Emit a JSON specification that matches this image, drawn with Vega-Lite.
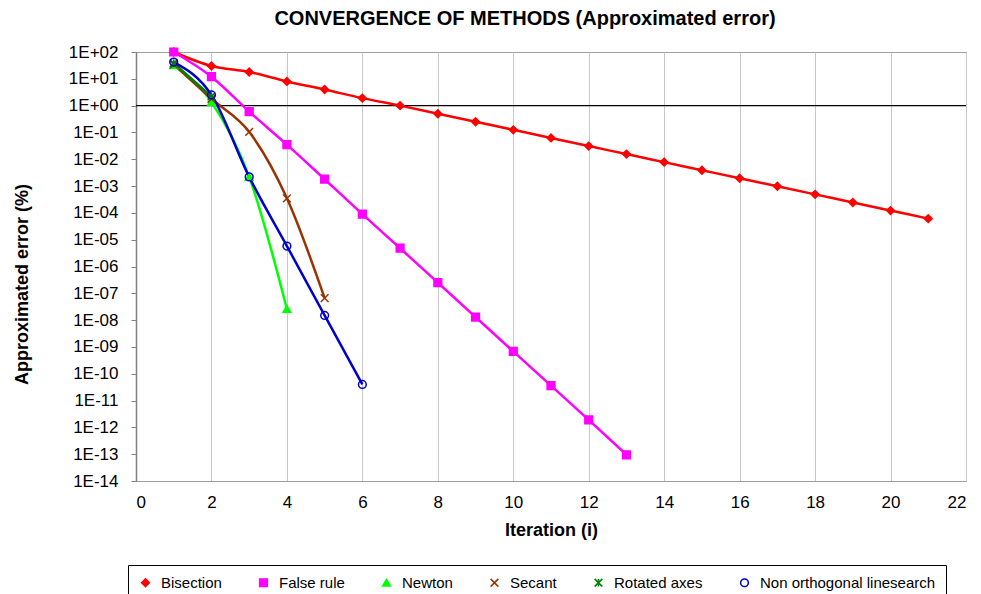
{
  "$schema": "https://vega.github.io/schema/vega-lite/v6.json",
  "width": 830,
  "height": 429,
  "autosize": {"type": "none"},
  "padding": {"left": 136, "top": 52, "right": 15, "bottom": 113},
  "background": "white",
  "title": {
    "text": "CONVERGENCE  OF METHODS (Approximated  error)",
    "font": "Liberation Sans",
    "fontSize": 20,
    "fontWeight": "bold",
    "color": "#000",
    "anchor": "middle",
    "offset": 14,
    "dx": -26
  },
  "config": {
    "font": "Liberation Sans",
    "view": {"stroke": "#a0a0a0", "strokeWidth": 1}
  },
  "datasets": {
    "err": [
      {"series": "Bisection", "i": 1, "e": 100},
      {"series": "Bisection", "i": 2, "e": 30},
      {"series": "Bisection", "i": 3, "e": 18},
      {"series": "Bisection", "i": 4, "e": 8},
      {"series": "Bisection", "i": 5, "e": 4},
      {"series": "Bisection", "i": 6, "e": 1.9},
      {"series": "Bisection", "i": 7, "e": 1.0},
      {"series": "Bisection", "i": 8, "e": 0.5},
      {"series": "Bisection", "i": 9, "e": 0.25},
      {"series": "Bisection", "i": 10, "e": 0.125},
      {"series": "Bisection", "i": 11, "e": 0.0625},
      {"series": "Bisection", "i": 12, "e": 0.031},
      {"series": "Bisection", "i": 13, "e": 0.0156},
      {"series": "Bisection", "i": 14, "e": 0.0078},
      {"series": "Bisection", "i": 15, "e": 0.0039},
      {"series": "Bisection", "i": 16, "e": 0.00195},
      {"series": "Bisection", "i": 17, "e": 0.00098},
      {"series": "Bisection", "i": 18, "e": 0.00049},
      {"series": "Bisection", "i": 19, "e": 0.000244},
      {"series": "Bisection", "i": 20, "e": 0.000122},
      {"series": "Bisection", "i": 21, "e": 0.000061},
      {"series": "False rule", "i": 1, "e": 100},
      {"series": "False rule", "i": 2, "e": 12},
      {"series": "False rule", "i": 3, "e": 0.6},
      {"series": "False rule", "i": 4, "e": 0.035},
      {"series": "False rule", "i": 5, "e": 0.0018},
      {"series": "False rule", "i": 6, "e": 0.00009},
      {"series": "False rule", "i": 7, "e": 0.0000048},
      {"series": "False rule", "i": 8, "e": 2.5e-7},
      {"series": "False rule", "i": 9, "e": 1.3e-8},
      {"series": "False rule", "i": 10, "e": 6.8e-10},
      {"series": "False rule", "i": 11, "e": 3.6e-11},
      {"series": "False rule", "i": 12, "e": 1.9e-12},
      {"series": "False rule", "i": 13, "e": 9.5e-14},
      {"series": "Newton", "i": 1, "e": 32},
      {"series": "Newton", "i": 2, "e": 1.35},
      {"series": "Newton", "i": 3, "e": 0.0022},
      {"series": "Newton", "i": 4, "e": 2.6e-8},
      {"series": "Secant", "i": 1, "e": 34},
      {"series": "Secant", "i": 2, "e": 1.8},
      {"series": "Secant", "i": 3, "e": 0.105},
      {"series": "Secant", "i": 4, "e": 0.00035},
      {"series": "Secant", "i": 5, "e": 6.6e-8},
      {"series": "Rotated axes", "i": 1, "e": 38},
      {"series": "Rotated axes", "i": 2, "e": 2.2},
      {"series": "Non orthogonal linesearch", "i": 1, "e": 42},
      {"series": "Non orthogonal linesearch", "i": 2, "e": 2.5},
      {"series": "Non orthogonal linesearch", "i": 3, "e": 0.0022},
      {"series": "Non orthogonal linesearch", "i": 4, "e": 0.0000058},
      {"series": "Non orthogonal linesearch", "i": 5, "e": 1.5e-8},
      {"series": "Non orthogonal linesearch", "i": 6, "e": 4e-11}
    ],
    "one": [{"y": 1}]
  },
  "layer": [
    {
      "data": {"name": "one"},
      "mark": {"type": "rule", "color": "#000", "strokeWidth": 1.2},
      "encoding": {
        "y": {"field": "y", "type": "quantitative", "scale": {"type": "log", "domain": [1e-14, 100]}}
      }
    },
    {
      "data": {"name": "err"},
      "mark": {"type": "line", "strokeWidth": 2.5, "interpolate": "monotone"},
      "encoding": {
        "x": {
          "field": "i", "type": "quantitative",
          "scale": {"domain": [0, 22], "nice": false},
          "axis": {
            "title": "Iteration (i)",
            "values": [0,1,2,3,4,5,6,7,8,9,10,11,12,13,14,15,16,17,18,19,20,21,22],
            "labelExpr": "datum.value % 2 == 0 ? datum.label : ''",
            "grid": true, "gridColor": "#c8c8c8", "gridWidth": 1,
            "ticks": false,
            "domainColor": "#a0a0a0",
            "labelFontSize": 17, "labelColor": "#000", "labelPadding": 13,
            "titleFontSize": 18, "titleFontWeight": "bold", "titleColor": "#000", "titlePadding": 11
          }
        },
        "y": {
          "field": "e", "type": "quantitative",
          "scale": {"type": "log", "domain": [1e-14, 100]},
          "axis": {
            "title": "Approximated error (%)",
            "values": [1e-14,1e-13,1e-12,1e-11,1e-10,1e-9,1e-8,1e-7,1e-6,1e-5,1e-4,1e-3,1e-2,1e-1,1,10,100],
            "labelExpr": "'1E' + (round(log(datum.value)/LN10) >= 0 ? '+' : '-') + (abs(round(log(datum.value)/LN10)) < 10 ? '0' : '') + abs(round(log(datum.value)/LN10))",
            "grid": false,
            "tickColor": "#808080", "tickSize": 5,
            "domainColor": "#808080", "domainWidth": 1.5,
            "labelFontSize": 17, "labelColor": "#000", "labelPadding": 13,
            "titleFontSize": 18, "titleFontWeight": "bold", "titleColor": "#000",
            "titleX": -114, "titleY": 232, "titleAngle": -90, "titleBaseline": "middle", "titleAlign": "center"
          }
        },
        "stroke": {
          "field": "series", "type": "nominal",
          "scale": {
            "domain": ["Bisection", "False rule", "Newton", "Secant", "Rotated axes", "Non orthogonal linesearch"],
            "range": ["#ff0000", "#ff00ff", "#00ff00", "#993300", "#008000", "#0000cc"]
          }
        },
        "detail": {"field": "series"}
      }
    },
    {
      "data": {"name": "err"},
      "mark": {"type": "point", "size": 60, "strokeWidth": 1.5, "opacity": 1},
      "encoding": {
        "x": {"field": "i", "type": "quantitative"},
        "y": {"field": "e", "type": "quantitative"},
        "stroke": {
          "field": "series", "type": "nominal",
          "scale": {
            "domain": ["Bisection", "False rule", "Newton", "Secant", "Rotated axes", "Non orthogonal linesearch"],
            "range": ["#ff0000", "#ff00ff", "#00ff00", "#993300", "#008000", "#0000cc"]
          }
        },
        "fill": {
          "field": "series", "type": "nominal",
          "scale": {
            "domain": ["Bisection", "False rule", "Newton", "Secant", "Rotated axes", "Non orthogonal linesearch"],
            "range": ["#ff0000", "#ff00ff", "#00ff00", "transparent", "transparent", "transparent"]
          }
        },
        "shape": {
          "field": "series", "type": "nominal",
          "scale": {
            "domain": ["Bisection", "False rule", "Newton", "Secant", "Rotated axes", "Non orthogonal linesearch"],
            "range": ["diamond", "square", "triangle-up", "M-1,-1L1,1M-1,1L1,-1", "M-1,-1L1,1M-1,1L1,-1M0,-1L0,1", "circle"]
          },
          "legend": {
            "title": null,
            "orient": "none",
            "legendX": -8,
            "legendY": 513,
            "direction": "horizontal",
            "columns": 6,
            "strokeColor": "#000",
            "padding": 10,
            "labelFont": "Liberation Sans",
            "labelFontSize": 15,
            "labelLimit": 400,
            "labelColor": "#000",
            "columnPadding": 34,
            "symbolSize": 60,
            "symbolStrokeWidth": 1.5,
            "labelOffset": 8
          }
        }
      }
    }
  ]
}
